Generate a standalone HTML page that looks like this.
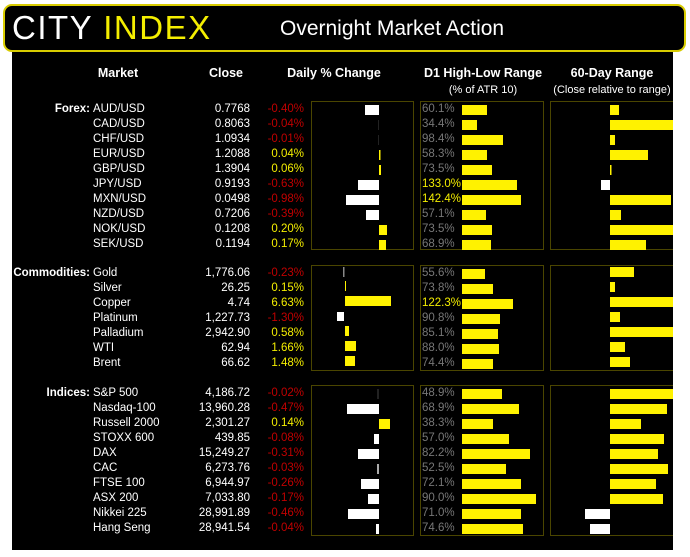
<!DOCTYPE html>
<html><head><meta charset="utf-8"><style>
body{margin:0;background:#fff;width:690px;height:557px;overflow:hidden}
svg{display:block;font-family:"Liberation Sans",sans-serif}
.l{fill:#fff;font-size:11.5px}
.b{fill:#fff;font-size:11.5px;font-weight:bold}
.h{fill:#fff;font-size:12.5px;font-weight:bold}
.s{fill:#fff;font-size:11px}
.r{fill:#c00000;font-size:11.5px}
.y{fill:#f4ee00;font-size:11.5px}
.g{fill:#777;font-size:11.5px}
.Y{fill:#fff200}
.W{fill:#fff}
</style></head><body>
<svg width="690" height="557" viewBox="0 0 690 557">
<rect x="12" y="52" width="661" height="498" fill="#000"/>
<rect x="4" y="5" width="681" height="46" rx="8" fill="#000" stroke="#d8cc00" stroke-width="2"/>
<text x="12" y="39" style="font-size:33px;letter-spacing:1.5px" fill="#fff">CITY <tspan fill="#f4ee00">INDEX</tspan></text>
<text x="280" y="35" style="font-size:21px" fill="#fff">Overnight Market Action</text>
<g text-anchor="middle">
<text x="118" y="77" class="h">Market</text><text x="226" y="77" class="h">Close</text>
<text x="334" y="77" class="h">Daily % Change</text><text x="483" y="77" class="h">D1 High-Low Range</text>
<text x="612" y="77" class="h">60-Day Range</text>
<text x="483" y="93" class="s">(% of ATR 10)</text>
<text x="612" y="93" class="s">(Close relative to range)</text>
</g>
<g fill="none" stroke="#4a4500" stroke-width="1">
<rect x="311.5" y="101.5" width="102" height="148"/><rect x="420.5" y="101.5" width="123" height="148"/><rect x="550.5" y="101.5" width="130" height="148"/>
<rect x="311.5" y="265.5" width="102" height="105"/><rect x="420.5" y="265.5" width="123" height="105"/><rect x="550.5" y="265.5" width="130" height="105"/>
<rect x="311.5" y="385.5" width="102" height="150"/><rect x="420.5" y="385.5" width="123" height="150"/><rect x="550.5" y="385.5" width="130" height="150"/>
</g>
<rect x="673" y="52" width="17" height="505" fill="#fff"/>
<text x="90" y="112" class="b" text-anchor="end">Forex:</text>
<text x="90" y="276" class="b" text-anchor="end">Commodities:</text>
<text x="90" y="396" class="b" text-anchor="end">Indices:</text>
<g class="l">
<text x="93" y="112">AUD/USD</text><text x="93" y="127">CAD/USD</text><text x="93" y="142">CHF/USD</text><text x="93" y="157">EUR/USD</text><text x="93" y="172">GBP/USD</text><text x="93" y="187">JPY/USD</text><text x="93" y="202">MXN/USD</text><text x="93" y="217">NZD/USD</text><text x="93" y="232">NOK/USD</text><text x="93" y="247">SEK/USD</text>
<text x="93" y="276">Gold</text><text x="93" y="291">Silver</text><text x="93" y="306">Copper</text><text x="93" y="321">Platinum</text><text x="93" y="336">Palladium</text><text x="93" y="351">WTI</text><text x="93" y="366">Brent</text>
<text x="93" y="396">S&amp;P 500</text><text x="93" y="411">Nasdaq-100</text><text x="93" y="426">Russell 2000</text><text x="93" y="441">STOXX 600</text><text x="93" y="456">DAX</text><text x="93" y="471">CAC</text><text x="93" y="486">FTSE 100</text><text x="93" y="501">ASX 200</text><text x="93" y="516">Nikkei 225</text><text x="93" y="531">Hang Seng</text>
</g>
<g class="l" text-anchor="end">
<text x="250" y="112">0.7768</text><text x="250" y="127">0.8063</text><text x="250" y="142">1.0934</text><text x="250" y="157">1.2088</text><text x="250" y="172">1.3904</text><text x="250" y="187">0.9193</text><text x="250" y="202">0.0498</text><text x="250" y="217">0.7206</text><text x="250" y="232">0.1208</text><text x="250" y="247">0.1194</text>
<text x="250" y="276">1,776.06</text><text x="250" y="291">26.25</text><text x="250" y="306">4.74</text><text x="250" y="321">1,227.73</text><text x="250" y="336">2,942.90</text><text x="250" y="351">62.94</text><text x="250" y="366">66.62</text>
<text x="250" y="396">4,186.72</text><text x="250" y="411">13,960.28</text><text x="250" y="426">2,301.27</text><text x="250" y="441">439.85</text><text x="250" y="456">15,249.27</text><text x="250" y="471">6,273.76</text><text x="250" y="486">6,944.97</text><text x="250" y="501">7,033.80</text><text x="250" y="516">28,991.89</text><text x="250" y="531">28,941.54</text>
</g>
<g text-anchor="end">
<text x="304" y="112" class="r">-0.40%</text><text x="304" y="127" class="r">-0.04%</text><text x="304" y="142" class="r">-0.01%</text><text x="304" y="157" class="y">0.04%</text><text x="304" y="172" class="y">0.06%</text><text x="304" y="187" class="r">-0.63%</text><text x="304" y="202" class="r">-0.98%</text><text x="304" y="217" class="r">-0.39%</text><text x="304" y="232" class="y">0.20%</text><text x="304" y="247" class="y">0.17%</text>
<text x="304" y="276" class="r">-0.23%</text><text x="304" y="291" class="y">0.15%</text><text x="304" y="306" class="y">6.63%</text><text x="304" y="321" class="r">-1.30%</text><text x="304" y="336" class="y">0.58%</text><text x="304" y="351" class="y">1.66%</text><text x="304" y="366" class="y">1.48%</text>
<text x="304" y="396" class="r">-0.02%</text><text x="304" y="411" class="r">-0.47%</text><text x="304" y="426" class="y">0.14%</text><text x="304" y="441" class="r">-0.08%</text><text x="304" y="456" class="r">-0.31%</text><text x="304" y="471" class="r">-0.03%</text><text x="304" y="486" class="r">-0.26%</text><text x="304" y="501" class="r">-0.17%</text><text x="304" y="516" class="r">-0.46%</text><text x="304" y="531" class="r">-0.04%</text>
</g>
<g>
<text x="422" y="112" class="g">60.1%</text><text x="422" y="127" class="g">34.4%</text><text x="422" y="142" class="g">98.4%</text><text x="422" y="157" class="g">58.3%</text><text x="422" y="172" class="g">73.5%</text><text x="422" y="187" class="y">133.0%</text><text x="422" y="202" class="y">142.4%</text><text x="422" y="217" class="g">57.1%</text><text x="422" y="232" class="g">73.5%</text><text x="422" y="247" class="g">68.9%</text>
<text x="422" y="276" class="g">55.6%</text><text x="422" y="291" class="g">73.8%</text><text x="422" y="306" class="y">122.3%</text><text x="422" y="321" class="g">90.8%</text><text x="422" y="336" class="g">85.1%</text><text x="422" y="351" class="g">88.0%</text><text x="422" y="366" class="g">74.4%</text>
<text x="422" y="396" class="g">48.9%</text><text x="422" y="411" class="g">68.9%</text><text x="422" y="426" class="g">38.3%</text><text x="422" y="441" class="g">57.0%</text><text x="422" y="456" class="g">82.2%</text><text x="422" y="471" class="g">52.5%</text><text x="422" y="486" class="g">72.1%</text><text x="422" y="501" class="g">90.0%</text><text x="422" y="516" class="g">71.0%</text><text x="422" y="531" class="g">74.6%</text>
</g>
<g>
<rect class="W" x="365" y="105" width="14" height="10"/><rect fill="#222" x="378" y="120" width="1" height="10"/><rect fill="#222" x="378" y="135" width="1" height="10"/>
<rect class="Y" x="379" y="150" width="1.5" height="10"/><rect class="Y" x="379" y="165" width="2" height="10"/>
<rect class="W" x="358" y="180" width="21" height="10"/><rect class="W" x="346" y="195" width="33" height="10"/><rect class="W" x="366" y="210" width="13" height="10"/>
<rect class="Y" x="379" y="225" width="8" height="10"/><rect class="Y" x="379" y="240" width="7" height="10"/>
<rect fill="#888" x="343" y="267" width="1.5" height="10"/><rect class="Y" x="345" y="281" width="1" height="10"/><rect class="Y" x="345" y="296" width="46" height="10"/>
<rect class="W" x="337" y="312" width="7" height="9"/><rect class="Y" x="345" y="326" width="4" height="10"/><rect class="Y" x="345" y="341" width="11" height="10"/><rect class="Y" x="345" y="356" width="10" height="10"/>
<rect fill="#222" x="377" y="389" width="2" height="10"/><rect class="W" x="347" y="404" width="32" height="10"/><rect class="Y" x="379" y="419" width="11" height="10"/>
<rect class="W" x="374" y="434" width="5" height="10"/><rect class="W" x="358" y="449" width="21" height="10"/><rect fill="#aaa" x="377" y="464" width="2" height="10"/>
<rect class="W" x="361" y="479" width="18" height="10"/><rect class="W" x="368" y="494" width="11" height="10"/><rect class="W" x="348" y="509" width="31" height="10"/><rect class="W" x="376" y="524" width="3" height="10"/>
</g>
<g class="Y">
<rect x="462" y="105" width="25" height="10"/><rect x="462" y="120" width="15" height="10"/><rect x="462" y="135" width="41" height="10"/><rect x="462" y="150" width="25" height="10"/><rect x="462" y="165" width="30" height="10"/><rect x="462" y="180" width="55" height="10"/><rect x="462" y="195" width="59" height="10"/><rect x="462" y="210" width="24" height="10"/><rect x="462" y="225" width="30" height="10"/><rect x="462" y="240" width="29" height="10"/>
<rect x="462" y="269" width="23" height="10"/><rect x="462" y="284" width="31" height="10"/><rect x="462" y="299" width="51" height="10"/><rect x="462" y="314" width="38" height="10"/><rect x="462" y="329" width="36" height="10"/><rect x="462" y="344" width="37" height="10"/><rect x="462" y="359" width="31" height="10"/>
<rect x="462" y="389" width="40" height="10"/><rect x="462" y="404" width="57" height="10"/><rect x="462" y="419" width="31" height="10"/><rect x="462" y="434" width="47" height="10"/><rect x="462" y="449" width="68" height="10"/><rect x="462" y="464" width="44" height="10"/><rect x="462" y="479" width="59" height="10"/><rect x="462" y="494" width="74" height="10"/><rect x="462" y="509" width="59" height="10"/><rect x="462" y="524" width="61" height="10"/>
</g>
<g class="Y">
<rect x="610" y="105" width="9" height="10"/><rect x="610" y="120" width="63" height="10"/><rect x="610" y="135" width="5" height="10"/><rect x="610" y="150" width="38" height="10"/><rect x="610" y="165" width="1.5" height="10"/><rect x="610" y="195" width="61" height="10"/><rect x="610" y="210" width="11" height="10"/><rect x="610" y="225" width="63" height="10"/><rect x="610" y="240" width="36" height="10"/>
<rect x="610" y="267" width="24" height="10"/><rect x="610" y="282" width="5" height="10"/><rect x="610" y="297" width="63" height="10"/><rect x="610" y="312" width="10" height="10"/><rect x="610" y="327" width="63" height="10"/><rect x="610" y="342" width="15" height="10"/><rect x="610" y="357" width="20" height="10"/>
<rect x="610" y="389" width="63" height="10"/><rect x="610" y="404" width="57" height="10"/><rect x="610" y="419" width="31" height="10"/><rect x="610" y="434" width="54" height="10"/><rect x="610" y="449" width="48" height="10"/><rect x="610" y="464" width="58" height="10"/><rect x="610" y="479" width="46" height="10"/><rect x="610" y="494" width="53" height="10"/>
</g>
<rect class="W" x="601" y="180" width="9" height="10"/><rect class="W" x="585" y="509" width="25" height="10"/><rect class="W" x="590" y="524" width="20" height="10"/>
</svg>
</body></html>
